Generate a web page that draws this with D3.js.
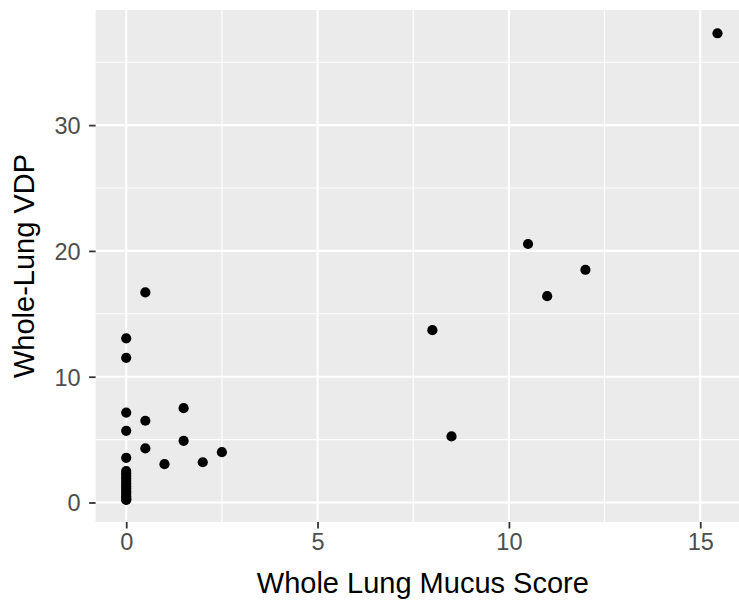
<!DOCTYPE html>
<html>
<head>
<meta charset="utf-8">
<script src="https://cdn.jsdelivr.net/npm/d3@7/dist/d3.min.js"></script>
<style>
  html, body { margin: 0; padding: 0; background: #ffffff; }
  svg { display: block; }
</style>
</head>
<body>
<svg id="chart" width="739" height="601"></svg>
<script>
// Whole lung mucus score vs. whole-lung VDP, one point per subject
const mucusScore = [
  0, 0, 0, 0, 0, 0, 0, 0, 0, 0, 0, 0, 0,
  0, 0, 0, 0, 0, 0,
  0.5, 0.5, 0.5,
  1.0, 1.5, 1.5, 2.0, 2.5,
  8.0, 8.5, 10.5, 11.0, 12.0, 15.45
];
const vdp = [
  0.2, 0.35, 0.5, 0.7, 0.9, 1.1, 1.3, 1.5, 1.7, 1.9, 2.1, 2.3, 2.5,
  3.55, 5.7, 7.15, 11.5, 13.05, 0.25,
  16.7, 6.5, 4.3,
  3.05, 7.5, 4.9, 3.2, 4.0,
  13.7, 5.25, 20.55, 16.4, 18.5, 37.3
];

const xTicks = [0, 5, 10, 15];
const xMinor = [2.5, 7.5, 12.5];
const yTicks = [0, 10, 20, 30];
const yMinor = [5, 15, 25, 35];

const xTitle = "Whole Lung Mucus Score";
const yTitle = "Whole-Lung VDP";

const svg = d3.select("#chart");
const panel = { left: 95.6, top: 10, right: 750, bottom: 522 };

const x = d3.scaleLinear().domain([-0.8, 16.3]).range([panel.left, panel.right]);
const y = d3.scaleLinear().domain([-1.55, 39.15]).range([panel.bottom, panel.top]);

const font = "'Liberation Sans', Arial, sans-serif";

// panel background
svg.append("rect")
  .attr("x", panel.left).attr("y", panel.top)
  .attr("width", panel.right - panel.left)
  .attr("height", panel.bottom - panel.top)
  .attr("fill", "#EBEBEB");

const grid = svg.append("g");
// minor grid lines
grid.selectAll(".vminor").data(xMinor).enter().append("line")
  .attr("x1", d => x(d)).attr("x2", d => x(d))
  .attr("y1", panel.top).attr("y2", panel.bottom)
  .attr("stroke", "#ffffff").attr("stroke-width", 1.1);
grid.selectAll(".hminor").data(yMinor).enter().append("line")
  .attr("y1", d => y(d)).attr("y2", d => y(d))
  .attr("x1", panel.left).attr("x2", panel.right)
  .attr("stroke", "#ffffff").attr("stroke-width", 1.1);
// major grid lines
grid.selectAll(".vmajor").data(xTicks).enter().append("line")
  .attr("x1", d => x(d)).attr("x2", d => x(d))
  .attr("y1", panel.top).attr("y2", panel.bottom)
  .attr("stroke", "#ffffff").attr("stroke-width", 2.1);
grid.selectAll(".hmajor").data(yTicks).enter().append("line")
  .attr("y1", d => y(d)).attr("y2", d => y(d))
  .attr("x1", panel.left).attr("x2", panel.right)
  .attr("stroke", "#ffffff").attr("stroke-width", 2.1);

// axes
const xAxis = d3.axisBottom(x).tickValues(xTicks).tickSize(6.5).tickPadding(5).tickFormat(d3.format("d"));
const yAxis = d3.axisLeft(y).tickValues(yTicks).tickSize(6.5).tickPadding(6).tickFormat(d3.format("d"));

const gx = svg.append("g").attr("transform", `translate(0,${panel.bottom})`).call(xAxis);
const gy = svg.append("g").attr("transform", `translate(${panel.left},0)`).call(yAxis);

[gx, gy].forEach(g => {
  g.select(".domain").remove();
  g.selectAll(".tick line").attr("stroke", "#333333").attr("stroke-width", 1.8);
  g.selectAll(".tick text")
    .attr("fill", "#4D4D4D")
    .style("font-family", font)
    .style("font-size", "23.5px");
});
gy.selectAll(".tick text").attr("x", -15).attr("dy", "0.36em");

// points
svg.append("g").selectAll("circle")
  .data(mucusScore.map((m, i) => [m, vdp[i]]))
  .enter().append("circle")
  .attr("cx", d => x(d[0]))
  .attr("cy", d => y(d[1]))
  .attr("r", 5.1)
  .attr("fill", "#000000");

// axis titles
svg.append("text")
  .attr("x", (panel.left + panel.right) / 2)
  .attr("y", 593)
  .attr("text-anchor", "middle")
  .style("font-family", font)
  .style("font-size", "29px")
  .attr("fill", "#000000")
  .text(xTitle);

svg.append("text")
  .attr("transform", `translate(33.5,${(panel.top + panel.bottom) / 2}) rotate(-90)`)
  .attr("text-anchor", "middle")
  .style("font-family", font)
  .style("font-size", "29px")
  .attr("fill", "#000000")
  .text(yTitle);
</script>
</body>
</html>
